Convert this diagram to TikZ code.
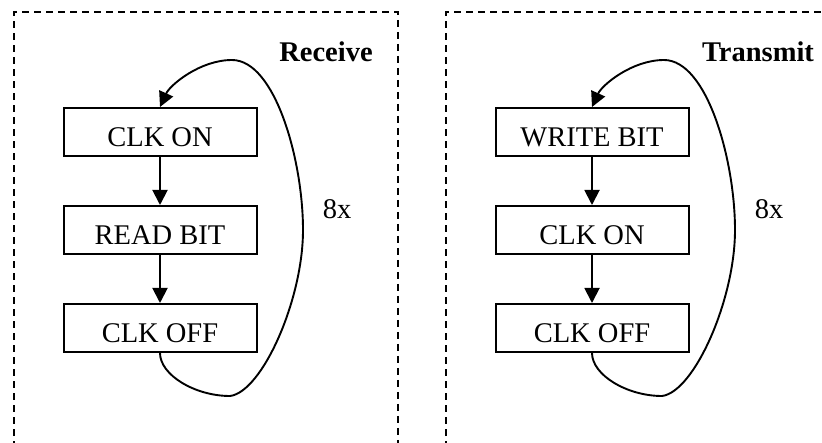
\documentclass[tikz,border=0pt]{standalone}
\usepackage{fontspec}
\setmainfont{Liberation Serif}
\usetikzlibrary{arrows.meta,positioning}

\tikzset{
	stepbox/.style={draw, line width=2pt, minimum width=193pt, minimum height=48pt, inner sep=0pt, text height=30pt, text depth=0pt, font=\fontsize{28.5}{32}\selectfont},
	flow/.style={line width=1.9pt, -{Triangle[length=15pt,width=15pt]}},
	panel/.style={line width=1.5pt, dash pattern=on 7pt off 5pt},
	title/.style={font=\fontsize{28.5}{32}\selectfont\bfseries},
	count/.style={font=\fontsize{28.5}{32}\selectfont}
}

\begin{document}
\begin{tikzpicture}[x=1pt,y=-1pt]
	\useasboundingbox (0,0) rectangle (822,443);
	% receive side
	\draw[panel] (14,460) -- (14,12) -- (398,12) -- (398,460);
	\node[title] (rx) at (326,52) {Receive};
	\node[stepbox] (on1) at (160,132) {CLK ON};
	\node[stepbox, below=48pt of on1] (rd1) {READ BIT};
	\node[stepbox, below=48pt of rd1] (off1) {CLK OFF};
	\draw[flow] (on1) -- (rd1);
	\draw[flow] (rd1) -- (off1);
	\coordinate (rb1) at (230,396);
	\coordinate (rr1) at (303,230);
	\coordinate (rt1) at (232,60);
	\draw[flow] (off1.south) .. controls (160,375) and (195,396) .. (rb1)
		.. controls (262,392) and (303,300) .. (rr1)
		.. controls (303,160) and (275,60) .. (rt1)
		.. controls (200,60) and (170,85) .. (on1.north);
	\node[count] (n1) at (337,209) {8x};
	% transmit side
	\begin{scope}[xshift=432pt]
		\draw[panel] (14,460) -- (14,12) -- (398,12) -- (398,460);
		\node[title] (tx) at (326,52) {Transmit};
		\node[stepbox] (wr2) at (160,132) {WRITE BIT};
		\node[stepbox, below=48pt of wr2] (on2) {CLK ON};
		\node[stepbox, below=48pt of on2] (off2) {CLK OFF};
		\draw[flow] (wr2) -- (on2);
		\draw[flow] (on2) -- (off2);
		\coordinate (rb2) at (230,396);
		\coordinate (rr2) at (303,230);
		\coordinate (rt2) at (232,60);
		\draw[flow] (off2.south) .. controls (160,375) and (195,396) .. (rb2)
			.. controls (262,392) and (303,300) .. (rr2)
			.. controls (303,160) and (275,60) .. (rt2)
			.. controls (200,60) and (170,85) .. (wr2.north);
		\node[count] (n2) at (337,209) {8x};
	\end{scope}
\end{tikzpicture}
\end{document}
